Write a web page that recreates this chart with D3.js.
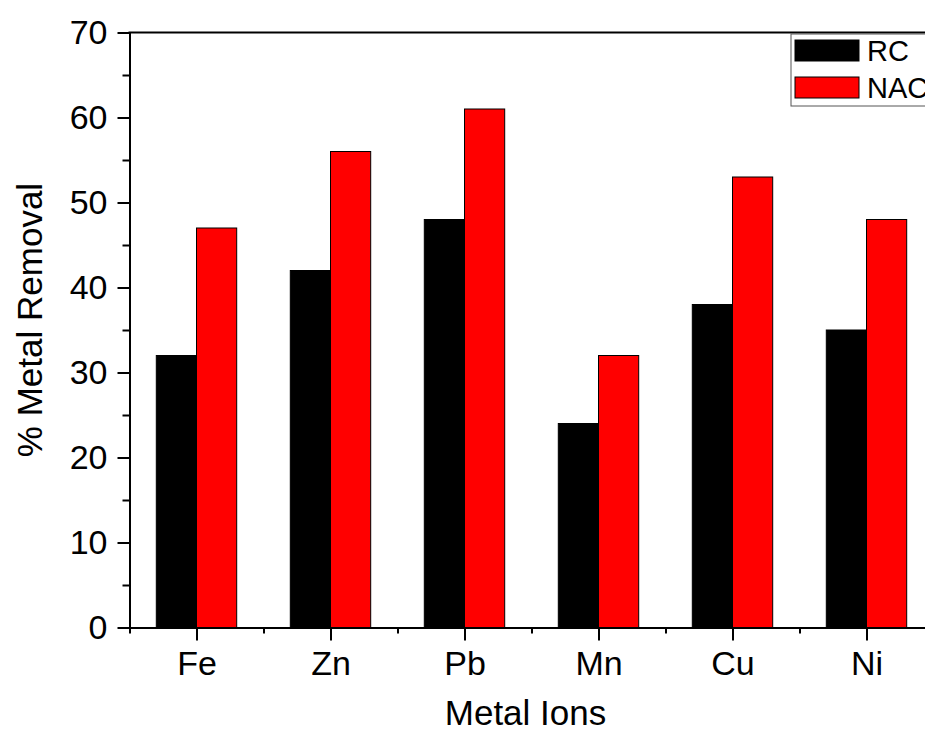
<!DOCTYPE html>
<html>
<head>
<meta charset="utf-8">
<script src="https://cdn.jsdelivr.net/npm/d3@7"></script>
<style>
  body { margin: 0; background: #fff; }
  text { font-family: "Liberation Sans", Arial, sans-serif; fill: #000; }
</style>
</head>
<body>
<svg id="chart" width="925" height="729"></svg>
<script>
// Data
var metals = ["Fe", "Zn", "Pb", "Mn", "Cu", "Ni"];
var rcValues = [32, 42, 48, 24, 38, 35];
var nacValues = [47, 56, 61, 32, 53, 48];
var seriesNames = ["RC", "NAC"];
var seriesColors = ["#000000", "#ff0000"];
var yTickValues = [0, 10, 20, 30, 40, 50, 60, 70];

var svg = d3.select("svg#chart");

var plotLeft = 129.5, plotRight = 933.5, plotTop = 32.5, plotBottom = 627.5;

var x = d3.scaleLinear().domain([0.5, metals.length + 0.5]).range([plotLeft, plotRight]);
var y = d3.scaleLinear().domain([0, 70]).range([plotBottom, plotTop]);
var barW = x(1.3) - x(1);

// Bars
var g = svg.append("g");
g.selectAll("rect.rc").data(rcValues).enter().append("rect")
    .attr("x", function(d, i) { return x(i + 1) - barW; })
    .attr("y", function(d) { return y(d); })
    .attr("width", barW)
    .attr("height", function(d) { return y(0) - y(d); })
    .attr("fill", seriesColors[0]).attr("stroke", "#000").attr("stroke-width", 1);
g.selectAll("rect.nac").data(nacValues).enter().append("rect")
    .attr("x", function(d, i) { return x(i + 1); })
    .attr("y", function(d) { return y(d); })
    .attr("width", barW)
    .attr("height", function(d) { return y(0) - y(d); })
    .attr("fill", seriesColors[1]).attr("stroke", "#000").attr("stroke-width", 1);

// Y axis: major + minor ticks
var yMinor = d3.axisLeft(y).tickValues(d3.range(5, 70, 10)).tickSize(7).tickFormat("");
svg.append("g").attr("transform", "translate(" + plotLeft + ",0)").call(yMinor)
    .call(function(s) { s.select(".domain").remove(); s.selectAll("line").attr("stroke-width", 2); });
var yAxis = d3.axisLeft(y).tickValues(yTickValues).tickSize(12).tickPadding(10).tickSizeOuter(0);
svg.append("g").attr("transform", "translate(" + plotLeft + ",0)").call(yAxis)
    .call(function(s) {
        s.select(".domain").attr("stroke-width", 2);
        s.selectAll("line").attr("stroke-width", 2);
        s.selectAll("text").style("font-size", "34px").style("font-family", "'Liberation Sans', Arial, sans-serif");
    });

// X axis: major ticks at categories, minor between
var xMinor = d3.axisBottom(x).tickValues(d3.range(0.5, metals.length + 0.6, 1)).tickSize(6).tickFormat("");
svg.append("g").attr("transform", "translate(0," + plotBottom + ")").call(xMinor)
    .call(function(s) { s.select(".domain").remove(); s.selectAll("line").attr("stroke-width", 2); });
var xAxis = d3.axisBottom(x).tickValues(d3.range(1, metals.length + 1))
    .tickFormat(function(d) { return metals[d - 1]; }).tickSize(13).tickPadding(10).tickSizeOuter(0);
svg.append("g").attr("transform", "translate(0," + plotBottom + ")").call(xAxis)
    .call(function(s) {
        s.select(".domain").attr("stroke-width", 2);
        s.selectAll("line").attr("stroke-width", 2);
        s.selectAll("text").style("font-size", "34px").style("font-family", "'Liberation Sans', Arial, sans-serif");
    });

// Top border
svg.append("line").attr("x1", plotLeft - 1).attr("x2", plotRight).attr("y1", plotTop).attr("y2", plotTop)
    .attr("stroke", "#000").attr("stroke-width", 2);

// Axis titles
svg.append("text").attr("x", (plotLeft + plotRight) / 2 - 6).attr("y", 725).attr("text-anchor", "middle")
    .style("font-size", "35px").text("Metal Ions");
svg.append("text").attr("transform", "translate(42," + 320 + ") rotate(-90)").attr("text-anchor", "middle")
    .style("font-size", "35px").text("% Metal Removal");

// Legend
var legend = svg.append("g").attr("transform", "translate(791,34)");
legend.append("rect").attr("x", 0).attr("y", 0).attr("width", 200).attr("height", 72)
    .attr("fill", "#fff").attr("stroke", "#555").attr("stroke-width", 1);
seriesNames.forEach(function(name, i) {
    legend.append("rect").attr("x", 4).attr("y", 6 + i * 37).attr("width", 64).attr("height", 21)
        .attr("fill", seriesColors[i]).attr("stroke", "#000").attr("stroke-width", 1);
    legend.append("text").attr("x", 76).attr("y", 27 + i * 37).style("font-size", "29px").text(name);
});
</script>
</body>
</html>
